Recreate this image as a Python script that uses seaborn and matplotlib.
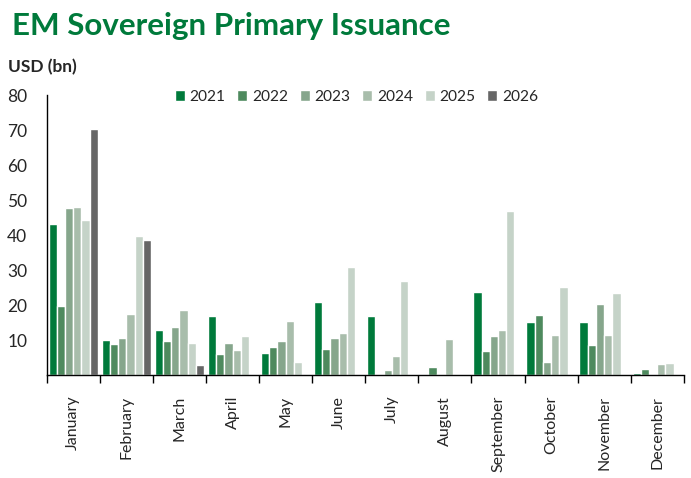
import numpy as np
import pandas as pd
import matplotlib
matplotlib.use("Agg")
import matplotlib.pyplot as plt
import seaborn as sns

months = ["January", "February", "March", "April", "May", "June", "July",
          "August", "September", "October", "November", "December"]
years = ["2021", "2022", "2023", "2024", "2025", "2026"]
nan = np.nan

# USD bn
y2021 = [43.3, 10.0, 12.9, 16.9, 6.3, 20.9, 16.9, nan, 23.8, 15.2, 15.2, 0.6]
y2022 = [19.8, 8.9, 9.8, 6.0, 8.0, 7.5, nan, 2.3, 6.9, 17.2, 8.6, 1.7]
y2023 = [47.6, 10.6, 13.8, 9.2, 9.8, 10.6, 1.4, 0.3, 11.2, 3.7, 20.4, nan]
y2024 = [47.9, 17.5, 18.6, 7.2, 15.5, 12.0, 5.4, 10.3, 12.9, 11.5, 11.5, 3.2]
y2025 = [44.2, 39.6, 9.2, 11.2, 3.7, 31.0, 27.0, nan, 47.0, 25.2, 23.5, 3.4]
y2026 = [70.3, 38.7, 2.9, nan, nan, nan, nan, nan, nan, nan, nan, nan]

colors = ["#007A3B", "#4E8A5E", "#86A68C", "#A8BDAB", "#C5D3C8", "#666666"]

series = [y2021, y2022, y2023, y2024, y2025, y2026]
rows = []
for yr, vals in zip(years, series):
    for m, v in zip(months, vals):
        rows.append({"month": m, "year": yr, "value": v})
df = pd.DataFrame(rows)

sns.set_style("white")
plt.rcParams["font.family"] = ["Lato", "DejaVu Sans"]

fig = plt.figure(figsize=(6.91, 4.78), dpi=100)
ax = fig.add_axes([0.0676, 0.2155, 0.922, 0.5855])

sns.barplot(data=df, x="month", y="value", hue="year", order=months,
            hue_order=years, palette=colors, width=0.93, ax=ax,
            saturation=1, errorbar=None, dodge=True)

ax.set_xlim(-0.5, 11.5)
ax.set_ylim(0, 80)
ax.set_yticks(range(10, 90, 10))
ax.set_yticklabels([str(v) for v in range(10, 90, 10)], fontsize=12.5)
ax.tick_params(axis="y", length=0, pad=14)
ax.set_xticks(range(12))
ax.set_xticklabels(months, rotation=90, fontsize=11.5)
ax.tick_params(axis="x", length=0, pad=15)
# tick marks sit between the month groups
ax.set_xticks(np.arange(-0.5, 12, 1), minor=True)
ax.tick_params(axis="x", which="minor", length=6, width=1, color="black",
               direction="out", bottom=True)
ax.set_xlabel("")
ax.set_ylabel("")

for s in ["top", "right"]:
    ax.spines[s].set_visible(False)
for s in ["left", "bottom"]:
    ax.spines[s].set_color("black")
    ax.spines[s].set_linewidth(1)

ax.legend(ncol=6, frameon=False, loc="center",
          bbox_to_anchor=(0.486, 0.993), fontsize=11.2, handlelength=0.65,
          handleheight=0.65, handletextpad=0.3, columnspacing=0.75)

fig.text(0.017, 0.945, "EM Sovereign Primary Issuance", fontsize=22.6,
         fontweight="bold", color="#007A3B", va="center")
fig.text(0.011, 0.86, "USD (bn)", fontsize=12.5, fontweight="bold",
         va="center")

fig.savefig("out.png", dpi=100)
